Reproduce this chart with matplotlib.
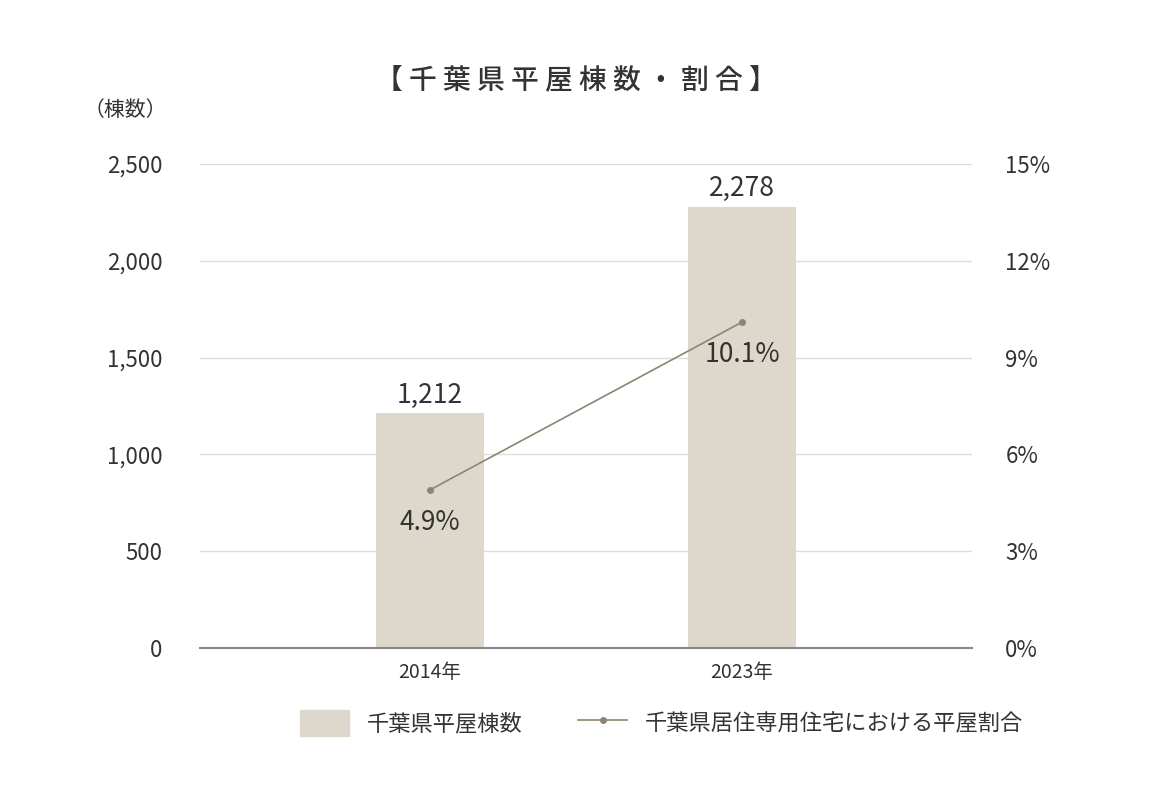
import matplotlib
matplotlib.use("Agg")
import matplotlib.pyplot as plt
from matplotlib.lines import Line2D
from matplotlib.patches import Patch

plt.rcParams["font.family"] = ["Noto Sans CJK JP", "DejaVu Sans"]

years = ["2014年", "2023年"]
counts = [1212, 2278]
count_labels = ["1,212", "2,278"]
ratios = [4.9, 10.1]

BAR, LINE, TXT, GRID = "#DED7CC", "#8C8571", "#333333", "#DDDDDD"

fig = plt.figure(figsize=(11.51, 7.99), dpi=100)
ax = fig.add_axes([0.1738, 0.189, 0.6707, 0.6058])
x = range(len(years))
ax.bar(x, counts, width=0.346, color=BAR, zorder=2)
ax.set_xlim(-0.737, 1.737)
ax.set_ylim(0, 2500)
ax.set_yticks(range(0, 2501, 500))
ax.set_yticklabels([f"{v:,}" for v in range(0, 2501, 500)])
ax.set_xticks(list(x))
ax.set_xticklabels(years, fontsize=14, color=TXT)
ax.grid(axis="y", color=GRID, linewidth=1, zorder=0)
for s in ["top", "left", "right"]:
    ax.spines[s].set_visible(False)
ax.spines["bottom"].set_color("#888888")
ax.spines["bottom"].set_linewidth(1.5)
ax.tick_params(axis="y", length=0, labelsize=16, labelcolor=TXT, pad=27)
ax.tick_params(axis="x", length=0, pad=10)
for i, v in enumerate(counts):
    ax.text(i, v + 25, count_labels[i], ha="center", va="bottom", fontsize=19, color=TXT)

ax2 = ax.twinx()
ax2.set_ylim(0, 15)
ax2.set_yticks(range(0, 16, 3))
ax2.set_yticklabels([f"{v}%" for v in range(0, 16, 3)])
ax2.tick_params(axis="y", length=0, labelsize=16, labelcolor=TXT, pad=24)
for s in ax2.spines.values():
    s.set_visible(False)
ax2.plot(list(x), ratios, color=LINE, linewidth=1.2, marker="o", markersize=4)
for i, r in enumerate(ratios):
    ax2.text(i, r - 0.6, f"{r}%", ha="center", va="top", fontsize=19, color=TXT)

title = "【千葉県平屋棟数・割合】"
fig.text(0.5, 0.90, " ".join(title), ha="center", va="center",
         fontsize=20, fontweight="medium", color=TXT)
fig.text(0.109, 0.862, "（棟数）", ha="center", va="center", fontsize=15, color=TXT)

handles = [Patch(color=BAR, label="千葉県平屋棟数"),
           Line2D([], [], color=LINE, marker="o", markersize=4, linewidth=1.2,
                  label="千葉県居住専用住宅における平屋割合")]
fig.legend(handles=handles, loc="center", bbox_to_anchor=(0.575, 0.095), ncol=2,
           frameon=False, fontsize=16, labelcolor=TXT, handlelength=2.2,
           handleheight=1.4, columnspacing=2.5)

fig.savefig("out.png", dpi=100)
